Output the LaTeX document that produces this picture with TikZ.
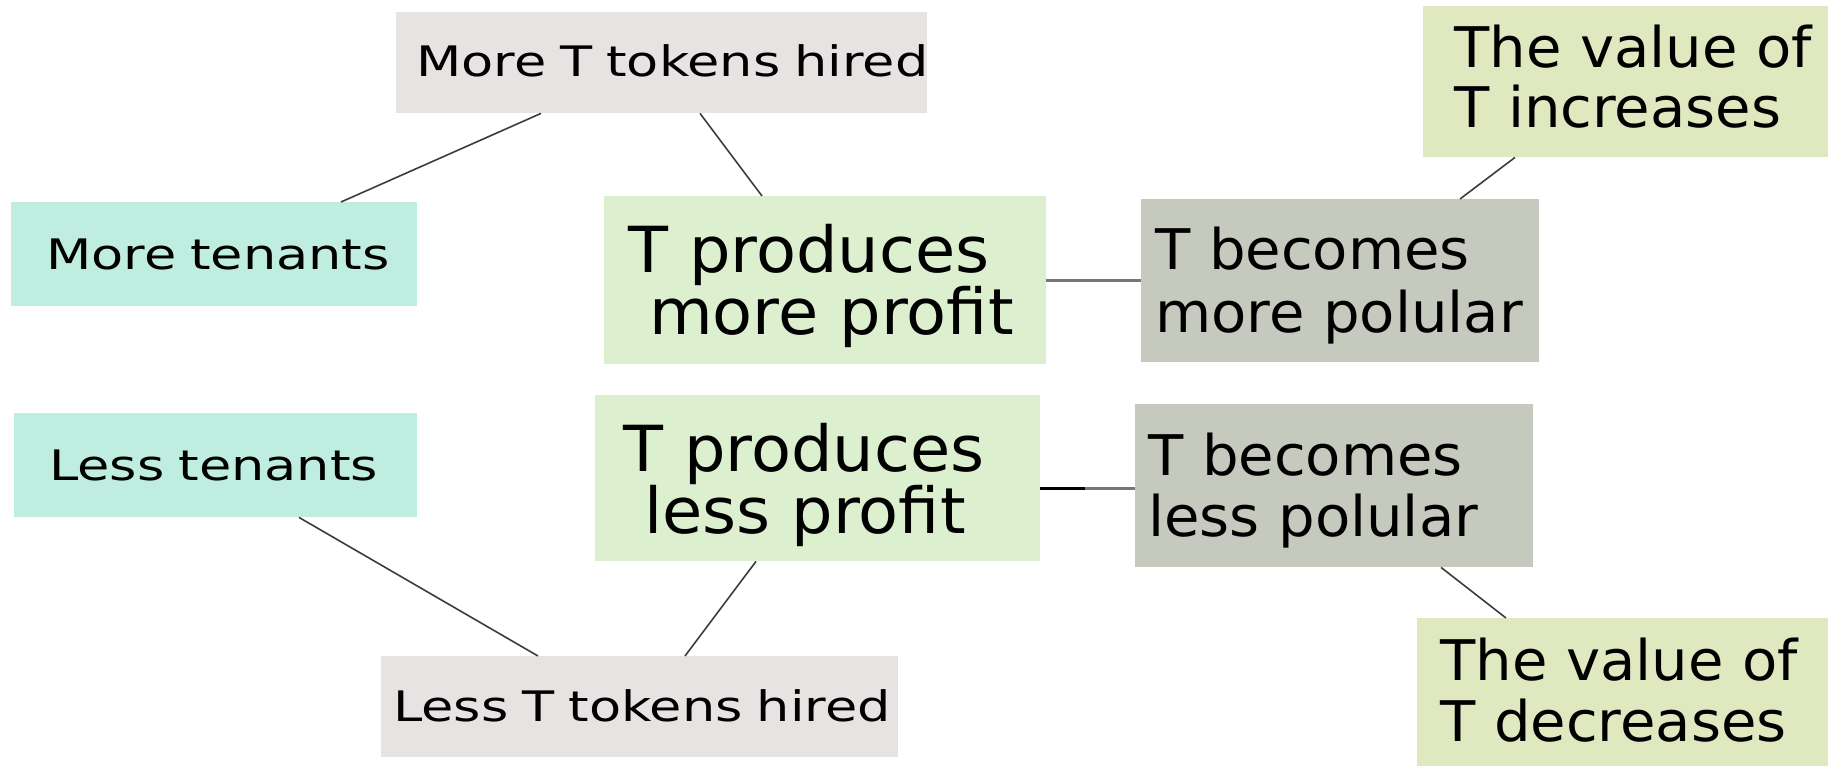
\documentclass[tikz,border=0pt]{standalone}
\usepackage{fontspec}
\newfontfamily\smallfnt{DejaVu Sans}[FakeStretch=1.25]
\newfontfamily\largefnt{DejaVu Sans}[FakeStretch=1.03]
\definecolor{hiredfill}{HTML}{E8E3E3}
\definecolor{tenantfill}{HTML}{BFEEE0}
\definecolor{profitfill}{HTML}{DCF0CF}
\definecolor{popularfill}{HTML}{C6C9BE}
\definecolor{valuefill}{HTML}{E0E8C0}
\definecolor{linkcolor}{HTML}{3C3C3C}
\definecolor{barcolor}{HTML}{777777}
\begin{document}
\begin{tikzpicture}[x=1pt,y=-1pt,
  box/.style={anchor=north west, inner sep=0pt, align=left},
  smalltxt/.style={font=\smallfnt\fontsize{42}{49}\selectfont},
  midtxt/.style={font=\largefnt\fontsize{56}{62}\selectfont},
  bigtxt/.style={font=\largefnt\fontsize{63.5}{62}\selectfont},
  link/.style={draw=linkcolor, line width=1.6pt},
  bar/.style={draw=barcolor, line width=3pt}]
\path[use as bounding box, fill=white] (0,0) rectangle (1828,766);

% upper chain
\node[box, smalltxt, fill=hiredfill, text width=531pt, text height=64.7pt, text depth=36.3pt]
  (mth) at (396,12) {\hspace*{20pt}\mbox{More T tokens hired}};
\node[box, smalltxt, fill=tenantfill, text width=406pt, text height=67.3pt, text depth=36.7pt]
  (mten) at (11,202) {\hspace*{35pt}\mbox{More tenants}};
\node[box, bigtxt, fill=profitfill, text width=442pt, text height=76.3pt, text depth=91.7pt]
  (mprof) at (604,196) {\hspace*{24pt}T produces\\\hspace*{45pt}more profit};
\node[box, midtxt, fill=popularfill, text width=398pt, text height=70.3pt, text depth=92.7pt,
  font=\largefnt\fontsize{56}{63}\selectfont]
  (mpop) at (1141,199) {\hspace*{14pt}T becomes\\\hspace*{14pt}more polular};
\node[box, midtxt, fill=valuefill, text width=405pt, text height=61.7pt, text depth=89.3pt,
  font=\largefnt\fontsize{56}{59.6}\selectfont]
  (inc) at (1423,6) {\hspace*{31pt}The value of\\\hspace*{31pt}T increases};

% lower chain
\node[box, smalltxt, fill=tenantfill, text width=403pt, text height=67pt, text depth=37pt]
  (lten) at (14,413) {\hspace*{35pt}\mbox{Less tenants}};
\node[box, bigtxt, fill=profitfill, text width=445pt, text height=76pt, text depth=90pt,
  font=\largefnt\fontsize{63.5}{59}\selectfont]
  (lprof) at (595,395) {\hspace*{28pt}T produces\\\hspace*{49pt}less profit};
\node[box, midtxt, fill=popularfill, text width=398pt, text height=71pt, text depth=92pt,
  font=\largefnt\fontsize{56}{61.7}\selectfont]
  (lpop) at (1135,404) {\hspace*{13pt}T becomes\\\hspace*{13pt}less polular};
\node[box, smalltxt, fill=hiredfill, text width=517pt, text height=65.7pt, text depth=35.3pt]
  (lth) at (381,656) {\hspace*{12pt}\mbox{Less T tokens hired}};
\node[box, midtxt, fill=valuefill, text width=411pt, text height=62pt, text depth=86pt,
  font=\largefnt\fontsize{56}{61.7}\selectfont]
  (dec) at (1417,618) {\hspace*{23pt}The value of\\\hspace*{23pt}T decreases};

% connectors of the upper chain
\draw[link] ([xshift=145pt]mth.south west) -- ([xshift=330pt]mten.north west);
\draw[link] ([xshift=304pt]mth.south west) -- ([xshift=158pt]mprof.north west);
\draw[bar] (mprof.east) -- (mprof.east -| mpop.west);
\draw[link] ([xshift=92pt]inc.south west) -- ([xshift=319pt]mpop.north west);

% connectors of the lower chain
\draw[link] ([xshift=285pt]lten.south west) -- ([xshift=157pt]lth.north west);
\draw[link] ([xshift=161pt]lprof.south west) -- ([xshift=304pt]lth.north west);
\coordinate (lmid) at ([xshift=45pt,yshift=-10pt]lprof.east);
\draw[bar, draw=black] ([yshift=-10pt]lprof.east) -- (lmid);
\draw[bar] (lmid) -- (lmid -| lpop.west);
\draw[link] ([xshift=306pt]lpop.south west) -- ([xshift=89pt]dec.north west);
\end{tikzpicture}
\end{document}
